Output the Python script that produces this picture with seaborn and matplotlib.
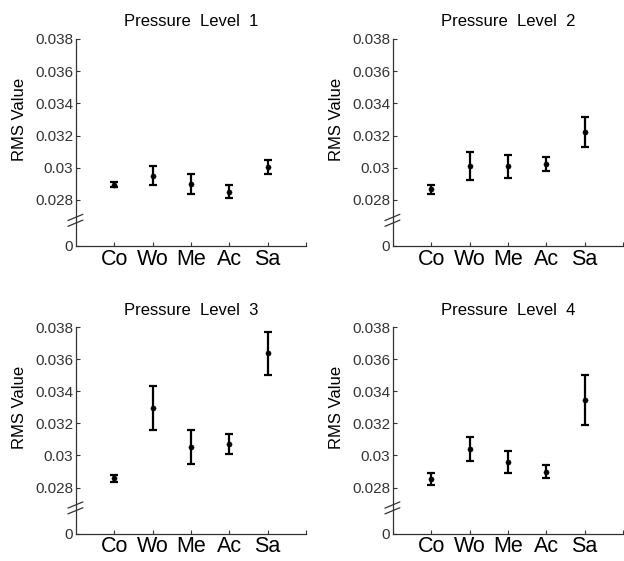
import numpy as np
import pandas as pd
import matplotlib
matplotlib.use("Agg")
import matplotlib.pyplot as plt
import seaborn as sns

categories = ['Co', 'Wo', 'Me', 'Ac', 'Sa']
titles = ['Pressure  Level  1', 'Pressure  Level  2', 'Pressure  Level  3', 'Pressure  Level  4']

mean_p1 = [0.02894, 0.02950, 0.02900, 0.02850, 0.03005]
err_p1 = [0.00015, 0.00060, 0.00060, 0.00040, 0.00044]
mean_p2 = [0.02865, 0.03009, 0.03009, 0.03024, 0.03221]
err_p2 = [0.00028, 0.00088, 0.00072, 0.00044, 0.00093]
mean_p3 = [0.02858, 0.03296, 0.03053, 0.03070, 0.03637]
err_p3 = [0.00023, 0.00138, 0.00104, 0.00062, 0.00135]
mean_p4 = [0.02853, 0.03041, 0.02958, 0.02898, 0.03345]
err_p4 = [0.00037, 0.00075, 0.00067, 0.00040, 0.00157]

yticks = [0.028, 0.030, 0.032, 0.034, 0.036, 0.038]
ytick_labels = ['0.028', '0.03', '0.032', '0.034', '0.036', '0.038']

means = [mean_p1, mean_p2, mean_p3, mean_p4]
errs = [err_p1, err_p2, err_p3, err_p4]

sns.set_style("white")
plt.rcParams['font.family'] = ['Liberation Sans', 'DejaVu Sans']
plt.rcParams['text.color'] = 'black'
plt.rcParams['axes.labelcolor'] = 'black'

fig = plt.figure(figsize=(6.24, 5.61), dpi=100)

# axes boxes in figure fractions (left, bottom, width, height)
boxes = [
    [0.1218, 0.5615, 0.3686, 0.3690],
    [0.6298, 0.5615, 0.3686, 0.3690],
    [0.1218, 0.0490, 0.3686, 0.3680],
    [0.6298, 0.0490, 0.3686, 0.3680],
]

zero_pos = 0.02514  # where the "0" sits below the axis break
grey = '#333333'

for i in range(4):
    ax = fig.add_axes(boxes[i])
    df = pd.DataFrame({'pos': np.arange(1, 6), 'cat': categories,
                       'mean': means[i], 'err': errs[i]})

    ax.errorbar(df['pos'], df['mean'], yerr=df['err'], fmt='none',
                ecolor='black', elinewidth=1.6, capsize=2.6, capthick=1.6)
    sns.scatterplot(data=df, x='pos', y='mean', ax=ax, color='black',
                    s=14, edgecolor='black', zorder=3)

    ax.set_xlim(0, 6)
    ax.set_ylim(zero_pos, 0.038)
    ax.set_xticks(np.arange(1, 7))
    ax.set_xticklabels(categories + [''], fontsize=15.5)
    ax.set_yticks([zero_pos] + yticks)
    ax.set_yticklabels(['0'] + ytick_labels, fontsize=11, color=grey)
    ax.tick_params(axis='both', direction='in', length=3, width=0.8,
                   color=grey, left=True, bottom=True)
    ax.tick_params(axis='x', pad=2, labelcolor='black')
    ax.tick_params(axis='y', pad=2)

    for s in ['top', 'right']:
        ax.spines[s].set_visible(False)
    for s in ['left', 'bottom']:
        ax.spines[s].set_color(grey)
        ax.spines[s].set_linewidth(0.9)

    ax.set_xlabel('')
    ax.set_ylabel('RMS Value', fontsize=12, color='black')
    ax.yaxis.set_label_coords(-0.215, 0.61)
    ax.set_title(titles[i], fontsize=12, pad=9, color='black')

    # axis break marks
    for dy in [0.0, 0.028]:
        ax.plot([-0.035, 0.03], [0.095 + dy, 0.125 + dy], transform=ax.transAxes,
                color=grey, lw=0.9, clip_on=False)

fig.savefig('out.png', dpi=100, facecolor='white')
